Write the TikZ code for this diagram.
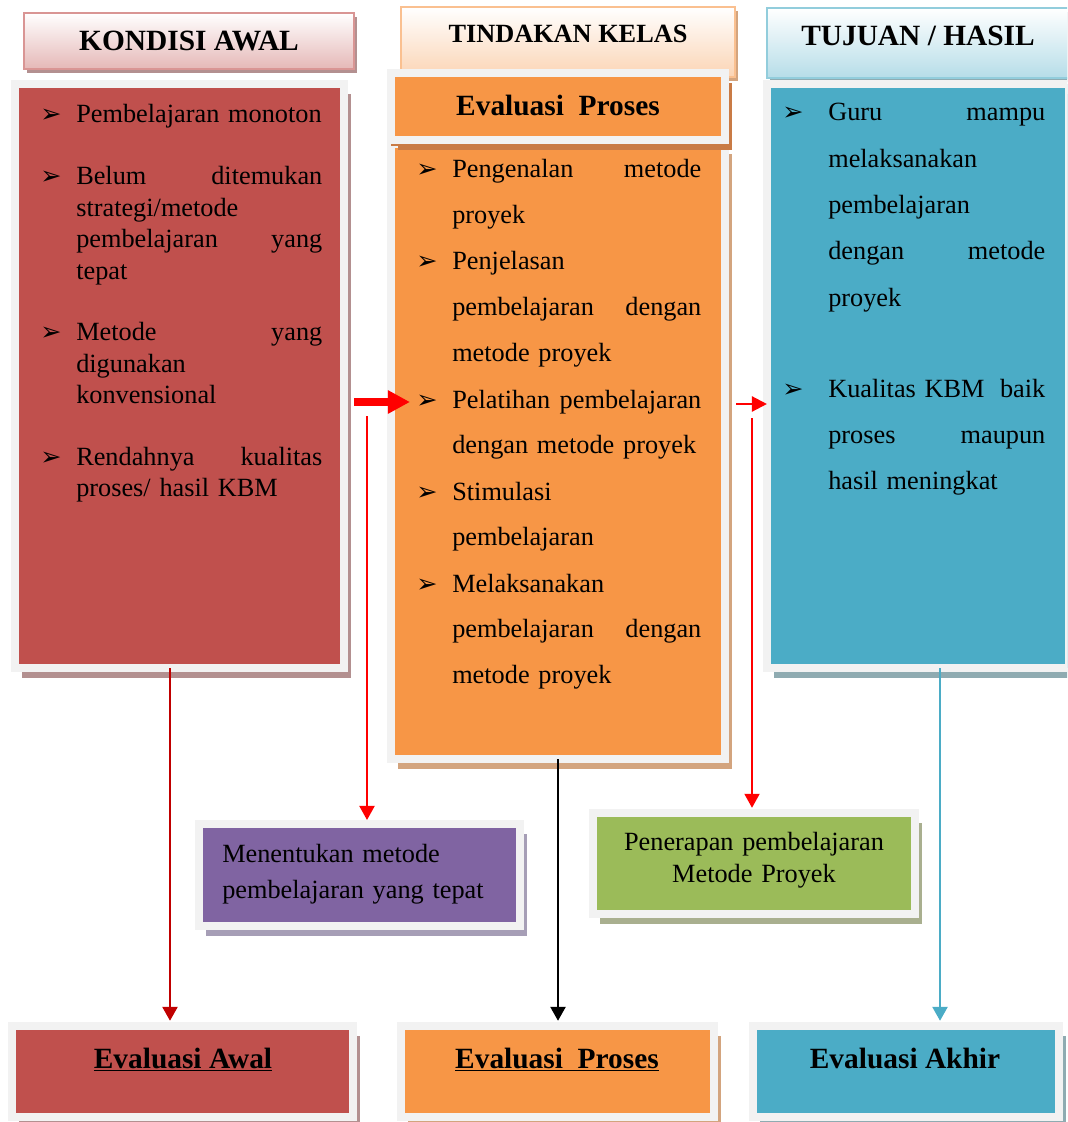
\documentclass[tikz,border=0pt]{standalone}
\usepackage{fontspec}
\setmainfont{Liberation Serif}
\newfontfamily\symfont{DejaVu Sans}
\usetikzlibrary{arrows.meta,shadows,positioning}

\definecolor{kred}{HTML}{C0504D}
\definecolor{korange}{HTML}{F79646}
\definecolor{kblue}{HTML}{4BACC6}
\definecolor{kpurple}{HTML}{8064A2}
\definecolor{kgreen}{HTML}{9BBB59}
\definecolor{framegray}{HTML}{F2F2F2}
\definecolor{redshade}{HTML}{B39090}
\definecolor{orangeshade}{HTML}{D3A47E}
\definecolor{blueshade}{HTML}{8FABB1}
\definecolor{purpleshade}{HTML}{A69EB6}
\definecolor{greenshade}{HTML}{A9AF8F}
\definecolor{pinkline}{HTML}{D99594}
\definecolor{pinkfill}{HTML}{E5B8B7}
\definecolor{peachline}{HTML}{FAC090}
\definecolor{peachfill}{HTML}{FBD4B4}
\definecolor{cyanline}{HTML}{92CDDC}
\definecolor{cyanfill}{HTML}{B6DDE8}
\definecolor{darkred}{HTML}{C00000}
\definecolor{headshade}{HTML}{C97B45}

\newcommand{\bul}[1][0.9cm]{\llap{\makebox[#1][l]{\symfont\fontsize{18}{18}\selectfont ➢}}}

\tikzset{
  panel/.style 2 args={fill=#1, draw=framegray, line width=0.2cm, inner sep=0pt, outer sep=0pt,
    drop shadow={shadow xshift=0.175cm, shadow yshift=-0.25cm, fill=#2, draw=none, opacity=1}},
  head/.style n args={3}{top color=white, bottom color=#1, draw=#2, line width=0.05cm, inner sep=0pt, outer sep=0pt,
    drop shadow={shadow xshift=0.075cm, shadow yshift=-0.1cm, fill=#3, draw=none, opacity=1}},
  title/.style={font=\bfseries\fontsize{20.9}{24}\selectfont, inner sep=0pt},
  item/.style={anchor=base west, align=left, inner sep=0pt, font=\fontsize{18.7}{#1}\selectfont},
  down/.style={draw=#1, line width=1.8pt, shorten >=0.13cm, -{Triangle[length=0.35cm,width=0.375cm]}},
}

\begin{document}
\begin{tikzpicture}[x=0.025cm,y=-0.025cm]

\useasboundingbox (0,0) rectangle (1067,1122);
\clip (0,0) rectangle (1067,1122);

% column heads
\node (hkondisi) [head={pinkfill}{pinkline}{redshade}, minimum width=8.25cm, minimum height=1.4cm] at (189,41) {};
\node (htindakan) [head={peachfill}{peachline}{orangeshade}, minimum width=8.35cm, minimum height=1.75cm] at (568,42) {};
\node (htujuan) [head={cyanfill}{cyanline}{blueshade}, minimum width=7.7cm, minimum height=1.75cm] at (921,43) {};

% main panels
\node (kondisi) [panel={kred}{redshade}, minimum width=8.225cm, minimum height=14.6cm] at (179.5,376) {};
\node (tindakan) [panel={korange}{orangeshade}, minimum width=8.35cm, minimum height=15.375cm] at (558,451.5) {};
\node (proseshead) [panel={korange}{headshade}, minimum width=8.35cm, minimum height=1.675cm,
  drop shadow={shadow xshift=0cm, shadow yshift=-0.15cm, fill=headshade, draw=none, opacity=1}] at (558,106.5) {};
\node (tujuan) [panel={kblue}{blueshade}, minimum width=7.55cm, minimum height=14.6cm] at (918,376) {};

\node (metode) [panel={kpurple}{purpleshade}, minimum width=8.025cm, minimum height=2.55cm] at (359.5,875) {};
\node (penerapan) [panel={kgreen}{greenshade}, minimum width=8.05cm, minimum height=2.525cm] at (754,863.5) {};

\node (evawal) [panel={kred}{redshade}, minimum width=8.525cm, minimum height=2.275cm] at (182.5,1071.5) {};
\node (evproses) [panel={korange}{orangeshade}, minimum width=7.825cm, minimum height=2.275cm] at (557.5,1071.5) {};
\node (evakhir) [panel={kblue}{blueshade}, minimum width=7.65cm, minimum height=2.275cm] at (906,1071.5) {};

% titles
\node (tkondisi) [title] at (hkondisi) {KONDISI AWAL};
\node (ttindakan) [title, font=\bfseries\fontsize{18.7}{22}\selectfont] at (568,34) {TINDAKAN KELAS};
\node (ttujuan) [title] at (918,36) {TUJUAN / HASIL};
\node (tproses) [title] at (558,105) {Evaluasi\ \ Proses};

\node (tawal) [title, anchor=base] at (183,1068) {\underline{Evaluasi Awal}};
\node (tevproses) [title, anchor=base] at (557,1068) {\underline{Evaluasi\ \ Proses}};
\node (takhir) [title, anchor=base] at (905,1068) {Evaluasi Akhir};

% lists
\node (k1) [item=22.4, text width=6.15cm] at (76,123) {\bul Pembelajaran monoton};
\node (k2) [item=22.4, text width=6.15cm] at (76,185) {\bul Belum\hfill ditemukan\\ strategi/metode\\ pembelajaran\hfill yang\\ tepat};
\node (k3) [item=22.4, text width=6.15cm] at (76,341) {\bul Metode\hfill yang\\ digunakan\\ konvensional};
\node (k4) [item=22.4, text width=6.15cm] at (76,465) {\bul Rendahnya\hfill kualitas\\ proses/ hasil KBM};

\node (t1) [item=32.7, text width=6.225cm] at (452,178) {\bul Pengenalan\hfill metode\\ proyek};
\node (t2) [item=32.7, text width=6.225cm] at (452,270) {\bul Penjelasan\\ pembelajaran\hfill dengan\\ metode proyek};
\node (t3) [item=32.7, text width=6.225cm] at (452,408) {\bul Pelatihan\hfill pembelajaran\\ dengan metode proyek};
\node (t4) [item=32.7, text width=6.225cm] at (452,500) {\bul Stimulasi\\ pembelajaran};
\node (t5) [item=32.7, text width=6.225cm] at (452,592) {\bul Melaksanakan\\ pembelajaran\hfill dengan\\ metode proyek};

\node (h1) [item=32.9, text width=5.425cm] at (828,121) {\bul[1.15cm]Guru\hfill mampu\\ melaksanakan\\ pembelajaran\\ dengan\hfill metode\\ proyek};
\node (h2) [item=32.9, text width=5.425cm] at (828,397) {\bul[1.15cm]Kualitas KBM\hfill baik\\ proses\hfill maupun\\ hasil meningkat};

\node (tmetode) [item=26.3, text width=7.5cm] at (222,862) {Menentukan metode\\ pembelajaran yang tepat};
\node (tpenerapan) [item=22.8, text width=7.8cm, align=center, anchor=base] at (754,850) {Penerapan pembelajaran\\ Metode Proyek};

% connectors
\coordinate (bigtail) at (354,402);
\coordinate (leftsplit) at (367,416);
\coordinate (smalltail) at (736,404);
\coordinate (rightsplit) at (752,418);
\coordinate (awaldrop) at ([xshift=-0.2375cm]kondisi.south);
\coordinate (akhirdrop) at ([xshift=0.55cm]tujuan.south);

\draw [red, line width=5.7pt, shorten >=-0.475cm, -{Triangle[length=0.55cm,width=0.55cm]}] (bigtail) -- (bigtail -| tindakan.west);
\draw [red, line width=1.6pt, -{Triangle[length=0.375cm,width=0.375cm]}] (smalltail) -- (smalltail -| tujuan.west);
\draw [down=red, line width=1.4pt, shorten >=0.1cm] (leftsplit) -- (leftsplit |- metode.north);
\draw [down=red, line width=1.4pt] (rightsplit) -- (rightsplit |- penerapan.north);

\draw [down=darkred] (awaldrop) -- (awaldrop |- evawal.north);
\draw [down=black] (tindakan.south) -- (tindakan.south |- evproses.north);
\draw [down=kblue] (akhirdrop) -- (akhirdrop |- evakhir.north);

\end{tikzpicture}
\end{document}
